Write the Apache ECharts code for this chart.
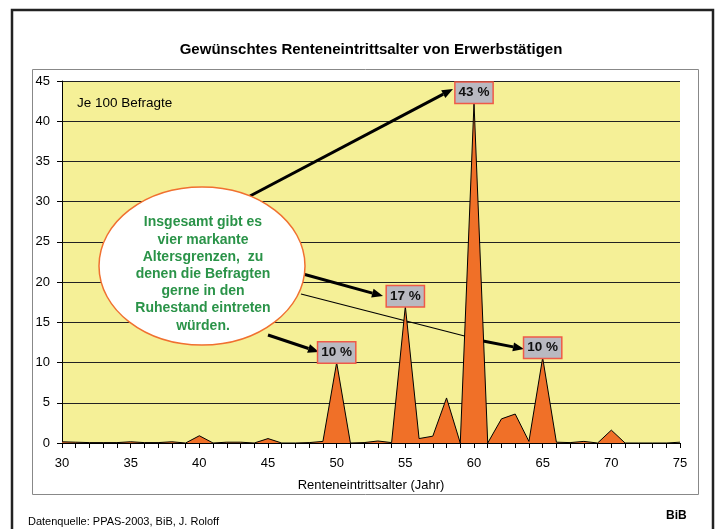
<!DOCTYPE html>
<html>
<head>
<meta charset="utf-8">
<script src="https://cdn.jsdelivr.net/npm/echarts@6/dist/echarts.min.js"></script>
<style>
  html, body { margin: 0; padding: 0; background: #fff; }
  #chart { width: 717px; height: 529px; }
</style>
</head>
<body>
<div id="chart"></div>
<script>
// Alter (Jahre) und Anteil je 100 Befragte
const ages = ['30', '31', '32', '33', '34', '35', '36', '37', '38', '39',
    '40', '41', '42', '43', '44', '45', '46', '47', '48', '49',
    '50', '51', '52', '53', '54', '55', '56', '57', '58', '59',
    '60', '61', '62', '63', '64', '65', '66', '67', '68', '69',
    '70', '71', '72', '73', '74', '75']
const shares = [0.15, 0.1, 0.05, 0.05, 0.05, 0.15, 0.05, 0.05, 0.15, 0,
    0.9, 0, 0.1, 0.1, 0, 0.55, 0, 0, 0.05, 0.2,
    10.0, 0, 0.05, 0.25, 0.05, 17.0, 0.55, 0.85, 5.6, 0,
    42.3, 0, 3.0, 3.6, 0.2, 10.6, 0.1, 0.05, 0.2, 0,
    1.6, 0, 0, 0, 0, 0.1]
const peakAges = ['50', '55', '60', '65']
const peakTexts = ['10 %', '17 %', '43 %', '10 %']
const noteLines = ['Insgesamt gibt es', 'vier markante', 'Altersgrenzen,  zu',
    'denen die Befragten', 'gerne in den', 'Ruhestand eintreten', 'würden.']

const font = '"Liberation Sans", Arial, sans-serif'

// Beschriftungen der vier Spitzen, am Datenpunkt verankert
const peakMarks = peakAges.map((a, k) => ({
    coord: [a, shares[ages.indexOf(a)]],
    label: { formatter: peakTexts[k] }
}))

function arrow (x1, y1, x2, y2, w) {
    const a = Math.atan2(y2 - y1, x2 - x1)
    const L = 11, H = 4.5
    const bx = x2 - L * Math.cos(a), by = y2 - L * Math.sin(a)
    const px = -Math.sin(a) * H, py = Math.cos(a) * H
    return [
        { type: 'line', z: 1, shape: { x1: x1, y1: y1, x2: bx, y2: by }, style: { stroke: '#000', lineWidth: w } },
        { type: 'polygon', z: 1, shape: { points: [[x2, y2], [bx + px, by + py], [bx - px, by - py]] }, style: { fill: '#000' } }
    ]
}

const chart = echarts.init(document.getElementById('chart'))
const option = {
    backgroundColor: '#fff',
    animation: false,
    title: {
        text: 'Gewünschtes Renteneintrittsalter von Erwerbstätigen',
        left: 366,
        textAlign: 'center',
        top: 37,
        textStyle: { fontFamily: font, fontWeight: 'bold', fontSize: 15, color: '#000' }
    },
    grid: {
        left: 62, right: 37, top: 81, bottom: 86,
        show: true,
        backgroundColor: '#f5f097',
        borderWidth: 0
    },
    xAxis: {
        type: 'category',
        data: ages,
        boundaryGap: false,
        name: 'Renteneintrittsalter (Jahr)',
        nameLocation: 'middle',
        nameGap: 36,
        nameTextStyle: { fontFamily: font, fontSize: 13, color: '#000' },
        axisLine: { lineStyle: { color: '#000', width: 1 } },
        axisTick: { interval: 0, length: 5, lineStyle: { color: '#000' } },
        axisLabel: { interval: 4, margin: 14, fontFamily: font, fontSize: 13, color: '#000' },
        splitLine: { show: false }
    },
    yAxis: {
        type: 'value',
        min: 0,
        max: 45,
        interval: 5,
        axisLine: { show: true, lineStyle: { color: '#000', width: 1 } },
        axisTick: { show: true, length: 5, lineStyle: { color: '#000' } },
        axisLabel: { margin: 12, fontFamily: font, fontSize: 13, color: '#000' },
        splitLine: { lineStyle: { color: '#222', width: 1 } }
    },
    series: [
        {
            type: 'line',
            data: shares,
            symbol: 'none',
            lineStyle: { color: '#000', width: 1 },
            areaStyle: { color: '#f07028', opacity: 1 },
            z: 3,
            markPoint: {
                symbol: 'rect',
                symbolSize: 0,
                silent: true,
                z: 5,
                label: {
                    show: true,
                    position: 'top',
                    distance: 0,
                    fontFamily: font,
                    fontWeight: 'bold',
                    fontSize: 13.5,
                    color: '#111',
                    backgroundColor: '#b9b9c1',
                    borderColor: '#ef5a48',
                    borderWidth: 1.5,
                    padding: [2, 3, 2, 3],
                    lineHeight: 16
                },
                data: peakMarks
            }
        }
    ],
    graphic: [
        { type: 'rect', z: 0, shape: { x: 12, y: 10, width: 701, height: 530 }, style: { fill: 'none', stroke: '#222', lineWidth: 2.5 } },
        { type: 'rect', z: 0, shape: { x: 32.5, y: 69.5, width: 666, height: 425 }, style: { fill: 'none', stroke: '#888', lineWidth: 1 } },
        { type: 'text', z: 1, left: 77, top: 96, style: { text: 'Je 100 Befragte', font: '13.5px ' + font, fill: '#000' } },
        ...arrow(250, 196, 453, 89, 3),
        ...arrow(303, 274, 383, 296, 3),
        { type: 'line', z: 1, shape: { x1: 301, y1: 294, x2: 484, y2: 341 }, style: { stroke: '#000', lineWidth: 1.2 } },
        ...arrow(483, 341, 524, 349, 3),
        ...arrow(268, 335, 319, 352, 3),
        { type: 'ellipse', z: 2, shape: { cx: 202, cy: 266, rx: 103, ry: 79 }, style: { fill: '#fff', stroke: '#f07030', lineWidth: 1.5 } },
        {
            type: 'text', z: 2, x: 203, y: 214,
            style: {
                text: noteLines.join('\n'),
                font: 'bold 14px ' + font,
                lineHeight: 17.2,
                fill: '#2a9348',
                align: 'center',
                verticalAlign: 'top'
            }
        },
        { type: 'rect', z: 2, shape: { x: 170, y: 332, width: 66, height: 7 }, style: { fill: '#fff' } },
        { type: 'text', z: 1, left: 28, top: 516, style: { text: 'Datenquelle: PPAS-2003, BiB, J. Roloff', font: '11px ' + font, fill: '#000' } },
        { type: 'text', z: 1, left: 666, top: 510, style: { text: 'BiB', font: 'bold 12px ' + font, fill: '#000' } }
    ]
}
chart.setOption(option)
</script>
</body>
</html>
